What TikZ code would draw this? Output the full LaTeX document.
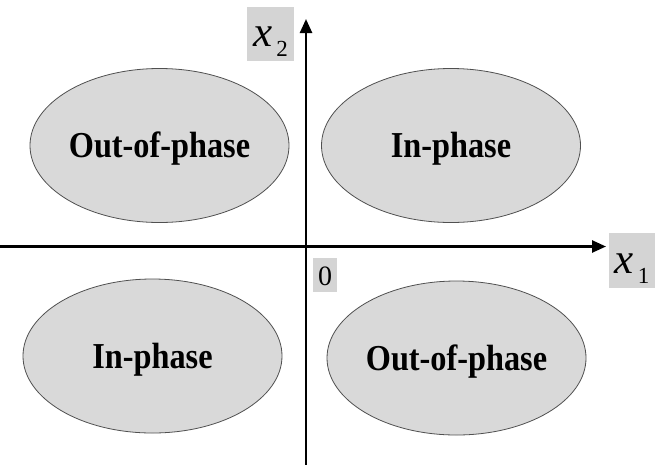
\documentclass[tikz,border=0pt]{standalone}
\usepackage{fontspec}
\setmainfont{Liberation Serif}
\usetikzlibrary{arrows.meta,shapes.geometric}
\definecolor{fillgray}{HTML}{D9D9D9}
\definecolor{boxgray}{HTML}{D4D4D4}
\definecolor{edgegray}{HTML}{505050}
\newcommand{\regtext}[1]{\scalebox{1}[1.13]{#1}}
\newcommand{\axtext}[3]{\raisebox{-#3}[0pt][0pt]{\fontsize{43}{43}\selectfont\itshape x\hspace{4pt}\raisebox{-10pt}{\fontsize{23}{23}\selectfont\upshape #1}}}
\tikzset{
  region/.style={ellipse, draw=edgegray, line width=0.8pt, fill=fillgray, inner sep=0pt,
    minimum width=259pt, minimum height=154pt, text height=24pt, text depth=0pt,
    font=\fontsize{32.3}{33}\selectfont\bfseries},
  axislabel/.style={rectangle, fill=boxgray, inner sep=0pt},
  axis/.style={line width=2.5pt, -{Triangle[length=14pt,width=12pt]}}
}
\begin{document}
\begin{tikzpicture}[x=1pt,y=-1pt]
\useasboundingbox (0,0) rectangle (660,464);
% ellipses
\node[region] (tl) at (159.5,145.5) {\regtext{Out-of-phase}};
\node[region] (tr) at (451,145.5) {\regtext{In-phase}};
\node[region] (bl) at (152.5,356) {\regtext{In-phase}};
\node[region] (br) at (456.5,358) {\regtext{Out-of-phase}};
% axes
\coordinate (xs) at (0,246.5);
\coordinate (xe) at (606,246.5);
\coordinate (ys) at (306,466);
\coordinate (ye) at (306,19);
\draw[axis] (xs) -- (xe);
\draw[axis] (ys) -- (ye);
% labels
\node[axislabel, minimum width=47pt, minimum height=54pt] (lx2) at (270.5,34)
  {\axtext{2}{}{12pt}};
\node[axislabel, minimum width=46pt, minimum height=55pt] (lx1) at (632,260.5)
  {\axtext{1}{}{12.5pt}};
\node[axislabel, minimum width=24pt, minimum height=34pt] (l0) at (325,275)
  {\raisebox{-10.5pt}[0pt][0pt]{\fontsize{28}{28}\selectfont 0}};
\end{tikzpicture}
\end{document}
